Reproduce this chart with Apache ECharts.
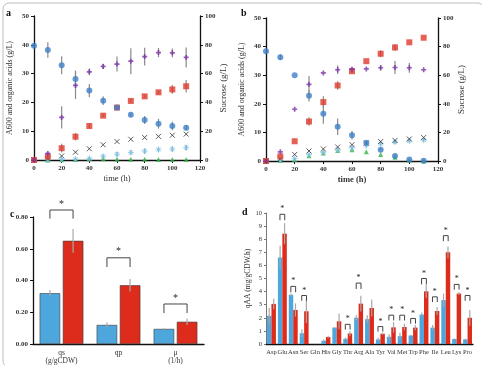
<!DOCTYPE html>
<html><head><meta charset="utf-8">
<script src="https://cdn.jsdelivr.net/npm/echarts@6/dist/echarts.min.js"></script>
<style>html,body{margin:0;padding:0;background:#fff}#c{width:482px;height:365px}</style>
</head><body><div id="c"></div>
<script>
// ---------- Data ----------
const timeH = [0,10,20,30,40,50,60,70,80,90,100,110];
// Panel a
const aSucrose = [79.4,76.4,65.8,56.2,48.2,41.2,36.4,31.4,27.8,25.2,23.6,22.4];
const aSucroseErr = [0,5.4,6.2,6,4.6,3,1,1.6,2.8,3.4,3,1.8];
const aA600 = [0,2.3,14.8,25.9,30.6,32.5,33.3,34.3,35.9,37.3,37.2,35.6];
const aA600Err = [0,0.3,3.9,4.7,1.2,0.9,2.6,4.5,3.1,1.6,1.5,3.5];
const aRed = [0,1.2,4.1,8.1,11.8,15.4,18.2,20.5,22.1,23.5,24.5,25.6];
const aRedErr = [0,0.3,1.5,1.3,0.7,0.5,0.5,0.5,0.5,0.6,1.5,2.2];
const aBlack = [0,0.5,1.4,2.7,3.9,5.3,6.4,7.2,7.8,8.2,8.6,9.0];
const aLight = [0,0,0.2,0.3,0.5,1.3,2.0,2.6,3.1,3.6,3.8,4.3];
const aLightErr = [0,0,0,0,0.3,0.6,0.8,0.8,0.9,0.9,0.9,0.9];
const aGreen = [0,0,0.1,0.2,0.4,0.4,0.3,0.3,0.3,0.2,0.2,0.2];
// Panel b
const bSucrose = [76.8,72.6,60.0,45.6,33.0,24.0,18.0,12.8,7.8,3.5,1.0,0.2];
const bSucroseErr = [0,2,0,4,7,5.8,3,1,1,1,0.5,0];
const bA600 = [0,3.2,18.1,26.8,30.8,31.9,32.1,32.2,32.6,32.7,32.6,31.9];
const bA600Err = [0,0,0,2.9,0,1.5,0.5,0,1,2.3,1.7,0];
const bRed = [0,1.6,6.9,13.8,20.6,26.4,31.4,34.9,37.5,39.7,41.5,43.1];
const bRedErr = [0,0,0,1.5,2,1.5,0.7,0,1.2,1.2,0,0];
const bBlack = [0,0.8,2.3,3.5,4.2,4.9,5.7,6.3,6.8,7.2,7.7,8.2];
const bLight = [0,0.3,0.8,2.2,3.0,3.8,4.6,5.4,6.0,6.6,7.0,7.3];
const bLightErr = [0,0,0,0.3,0.4,0.4,0.5,0.6,0.6,0.6,0.5,0.6];
const bGreen = [0,0.2,0.5,1.8,2.8,3.7,3.9,3.2,2.3,1.3,0.3,0];
// Panel c
const cCats = ['qs\n(g/gCDW)','qp','μ\n(1/h)'];
const cBlue = [0.32,0.12,0.095];
const cBlueErr = [0.02,0.015,0.005];
const cRed = [0.65,0.37,0.14];
const cRedErr = [0.075,0.04,0.02];
const cBrackets = [[0,0.844,0.79],[1,0.543,0.485],[2,0.252,0.195]];
// Panel d
const dCats = ['Asp','Glu','Asn','Ser','Gln','His','Gly','Thr','Arg','Ala','Tyr','Val','Met','Trp','Phe','Ile','Leu','Lys','Pro'];
const dBlue = [2.15,6.6,3.75,0.82,0,0.25,1.25,0.4,2.0,1.9,0.35,0.55,0.6,0.65,2.25,1.25,3.35,0.38,0.35];
const dBlueErr = [0.6,0.9,0.1,0.3,0,0.1,0.05,0.1,0.2,0.3,0.15,0.2,0.25,0.05,0.15,0.2,0.5,0.05,0.05];
const dRed = [3.06,8.42,2.6,2.5,0,0.53,1.73,0.8,3.08,2.75,0.78,1.27,1.3,1.25,4.02,2.52,7.0,3.85,2.0];
const dRedErr = [0.4,0.8,0.5,0.9,0,0.1,0.6,0.2,0.6,0.65,0.1,0.4,0.25,0.2,0.5,0.3,0.45,0.1,0.6];
const dBrackets = [[1,9.9,9.45],[2,4.4,3.95],[3,3.7,3.3],[7,1.5,1.1],[8,4.65,4.2],[10,1.33,0.95],[11,2.2,1.8],[12,2.2,1.8],[13,1.95,1.55],[14,5.0,4.55],[15,3.6,3.2],[16,8.27,7.85],[17,4.55,4.15],[18,3.7,3.3]];

// ---------- helpers ----------
const SERIF = '"Liberation Serif","DejaVu Serif",serif';
const pts = (xs, ys) => xs.map((x,i)=>[x, ys[i]]);
const errs = (xs, ys, es) => xs.map((x,i)=>[x, ys[i]-es[i], ys[i]+es[i]]).filter((d,i)=>es[i]>0);

function errRender(params, api){
  const p1 = api.coord([api.value(0), api.value(1)]);
  const p2 = api.coord([api.value(0), api.value(2)]);
  return {type:'line', shape:{x1:p1[0],y1:p1[1],x2:p2[0],y2:p2[1]}, style:{stroke:'#8a8a8a', lineWidth:1.2}};
}
function errSeries(xi, yi, data){
  return {type:'custom', xAxisIndex:xi, yAxisIndex:yi, renderItem:errRender, data:data, z:1, silent:true};
}
function barErrRender(frac){
  return function(params, api){
    const side = api.value(3);
    const band = api.size([1,0])[0];
    const p1 = api.coord([api.value(0), api.value(1)]);
    const p2 = api.coord([api.value(0), api.value(2)]);
    const x = p1[0] + side*frac*band;
    return {type:'line', shape:{x1:x,y1:p1[1],x2:x,y2:p2[1]}, style:{stroke:'#a8a8a8', lineWidth:1.2}};
  };
}
function bracketRender(frac, fs){
  return function(params, api){
    const band = api.size([1,0])[0];
    const top = api.coord([api.value(0), api.value(1)]);
    const arm = api.coord([api.value(0), api.value(2)]);
    const xl = top[0] - frac*band, xr = top[0] + frac*band;
    return {type:'group', children:[
      {type:'polyline', shape:{points:[[xl,arm[1]],[xl,top[1]],[xr,top[1]],[xr,arm[1]]]}, style:{stroke:'#444', lineWidth:1, fill:null}},
      {type:'text', style:{text:'*', x:top[0], y:top[1]-1, align:'center', verticalAlign:'bottom', fontSize:fs, fontFamily:SERIF, fill:'#222'}}
    ]};
  };
}
const barErrData = (bl, be, rd, re) => {
  const out = [];
  bl.forEach((v,i)=>{ if(be[i]>0) out.push([i, v-be[i], v+be[i], -1]); });
  rd.forEach((v,i)=>{ if(re[i]>0) out.push([i, v-re[i], v+re[i], 1]); });
  return out;
};

const SYM_X = 'path://M0,0L10,10M10,0L0,10';
const SYM_AST = 'path://M5,0L5,10M0,5L10,5M1.5,1.5L8.5,8.5M8.5,1.5L1.5,8.5';
const SYM_PLUS = 'path://M3.3,0H6.7V3.3H10V6.7H6.7V10H3.3V6.7H0V3.3H3.3Z';

function scatterSet(xi, yl, yr, suc, sucE, a6, a6E, red, redE, blk, lt, ltE, grn){
  return [
    errSeries(xi, yr, errs(timeH, suc, sucE)),
    errSeries(xi, yl, errs(timeH, a6, a6E)),
    errSeries(xi, yl, errs(timeH, red, redE)),
    errSeries(xi, yl, errs(timeH, lt, ltE)),
    {type:'scatter', xAxisIndex:xi, yAxisIndex:yl, data:pts(timeH, grn), symbol:'triangle', symbolSize:5, itemStyle:{color:'#34b44a'}, z:3},
    {type:'scatter', xAxisIndex:xi, yAxisIndex:yl, data:pts(timeH, lt), symbol:SYM_AST, symbolSize:6, itemStyle:{color:'none', borderColor:'#7fc4ea', borderWidth:1}, z:3},
    {type:'scatter', xAxisIndex:xi, yAxisIndex:yl, data:pts(timeH, blk), symbol:SYM_X, symbolSize:5, itemStyle:{color:'none', borderColor:'#333', borderWidth:1}, z:3},
    {type:'scatter', xAxisIndex:xi, yAxisIndex:yl, data:pts(timeH, red), symbol:'rect', symbolSize:6, itemStyle:{color:'#e0392a'}, z:4},
    {type:'scatter', xAxisIndex:xi, yAxisIndex:yr, data:pts(timeH, suc), symbol:'circle', symbolSize:6, itemStyle:{color:'#3f7fc8'}, z:4},
    {type:'scatter', xAxisIndex:xi, yAxisIndex:yl, data:pts(timeH, a6), symbol:SYM_PLUS, symbolSize:5, itemStyle:{color:'#7a2ea8'}, z:5}
  ];
}

const tickLbl = {fontFamily:SERIF, fontSize:7, fontWeight:'bold', color:'#333'};
const axLine = {lineStyle:{color:'#111', width:1.3}};
function timeAxis(gi, boldName){
  return {type:'value', gridIndex:gi, min:0, max:120, interval:20, axisLine:axLine,
    axisTick:{length:3, lineStyle:{color:'#111'}}, splitLine:{show:false},
    axisLabel:Object.assign({margin:5}, tickLbl),
    name:'time (h)', nameLocation:'middle', nameGap:14,
    nameTextStyle:{fontFamily:SERIF, fontSize:8.5, fontWeight:boldName?'bold':'normal', color:'#333'}};
}
function leftAxis(gi, gap){
  return {type:'value', gridIndex:gi, min:0, max:50, interval:10, axisLine:Object.assign({show:true},axLine),
    axisTick:{show:true, length:3, lineStyle:{color:'#111'}}, splitLine:{show:false},
    axisLabel:Object.assign({margin:5}, tickLbl),
    name:'A600 and organic acids (g/L)', nameLocation:'middle', nameGap:gap, nameRotate:90,
    nameTextStyle:{fontFamily:SERIF, fontSize:8, color:'#333'}};
}
function rightAxis(gi, gap){
  return {type:'value', gridIndex:gi, position:'right', min:0, max:100, interval:20, axisLine:Object.assign({show:true},axLine),
    axisTick:{show:true, length:3, lineStyle:{color:'#111'}}, splitLine:{show:false},
    axisLabel:Object.assign({margin:5}, tickLbl),
    name:'Sucrose (g/L)', nameLocation:'middle', nameGap:gap, nameRotate:90,
    nameTextStyle:{fontFamily:SERIF, fontSize:9, color:'#333'}};
}

const chart = echarts.init(document.getElementById('c'), null, {renderer:'canvas'});
const option = {
  animation:false,
  backgroundColor:'#fff',
  grid:[
    {left:34, top:16, width:166, height:144},
    {left:266, top:18, width:172, height:143},
    {left:33, top:217, width:171, height:127},
    {left:266, top:213, width:207, height:131}
  ],
  xAxis:[
    timeAxis(0,false),
    timeAxis(1,true),
    {type:'category', gridIndex:2, data:cCats, axisLine:axLine, axisTick:{show:false},
      axisLabel:{fontFamily:SERIF, fontSize:7.5, color:'#333', margin:5, lineHeight:8}},
    {type:'category', gridIndex:3, data:dCats, axisLine:axLine, axisTick:{show:false},
      axisLabel:{fontFamily:SERIF, fontSize:6.5, color:'#333', margin:5, interval:0}}
  ],
  yAxis:[
    leftAxis(0,20), rightAxis(0,19),
    leftAxis(1,20), rightAxis(1,18),
    {type:'value', gridIndex:2, min:0, max:0.8, interval:0.2, axisLine:Object.assign({show:true},axLine),
      axisTick:{show:true, length:3, lineStyle:{color:'#111'}}, splitLine:{show:false},
      axisLabel:Object.assign({margin:5, formatter:v=>v.toFixed(2)}, tickLbl)},
    {type:'value', gridIndex:3, min:0, max:10, interval:1, axisLine:{show:true, lineStyle:{color:'#777', width:1}},
      axisTick:{show:true, length:2, lineStyle:{color:'#777'}}, splitLine:{show:false},
      axisLabel:{fontFamily:SERIF, fontSize:6.5, color:'#333', margin:4},
      name:'qAA (mg/gCDW.h)', nameLocation:'middle', nameGap:13, nameRotate:90,
      nameTextStyle:{fontFamily:SERIF, fontSize:7.5, color:'#333'}}
  ],
  series:[
    ...scatterSet(0,0,1,aSucrose,aSucroseErr,aA600,aA600Err,aRed,aRedErr,aBlack,aLight,aLightErr,aGreen),
    ...scatterSet(1,2,3,bSucrose,bSucroseErr,bA600,bA600Err,bRed,bRedErr,bBlack,bLight,bLightErr,bGreen),
    {type:'bar', xAxisIndex:2, yAxisIndex:4, data:cBlue, barWidth:'36%', barGap:'13%', itemStyle:{color:'#4ea7dc', borderColor:'#3a3a3a', borderWidth:0.6}},
    {type:'bar', xAxisIndex:2, yAxisIndex:4, data:cRed, barWidth:'36%', barGap:'13%', itemStyle:{color:'#dd2b1c', borderColor:'#3a3a3a', borderWidth:0.6}},
    {type:'custom', xAxisIndex:2, yAxisIndex:4, renderItem:barErrRender(0.203), data:barErrData(cBlue,cBlueErr,cRed,cRedErr), z:5},
    {type:'custom', xAxisIndex:2, yAxisIndex:4, renderItem:bracketRender(0.203, 10), data:cBrackets, z:5},
    {type:'bar', xAxisIndex:3, yAxisIndex:5, data:dBlue, barWidth:'41%', barGap:'0%', itemStyle:{color:'#4ea7dc'}},
    {type:'bar', xAxisIndex:3, yAxisIndex:5, data:dRed, barWidth:'41%', barGap:'0%', itemStyle:{color:'#dd2b1c'}},
    {type:'custom', xAxisIndex:3, yAxisIndex:5, renderItem:barErrRender(0.205), data:barErrData(dBlue,dBlueErr,dRed,dRedErr), z:5},
    {type:'custom', xAxisIndex:3, yAxisIndex:5, renderItem:bracketRender(0.22, 8), data:dBrackets, z:5}
  ],
  graphic:[
    {type:'rect', left:0.5, top:0.5, shape:{width:481, height:364, r:6}, style:{fill:'none', stroke:'#bdbdbd', lineWidth:1}, silent:true},
    {type:'text', left:6, top:8, style:{text:'a', fontFamily:SERIF, fontSize:10, fontWeight:'bold', fill:'#111'}},
    {type:'text', left:241, top:8, style:{text:'b', fontFamily:SERIF, fontSize:10, fontWeight:'bold', fill:'#111'}},
    {type:'text', left:10, top:209, style:{text:'c', fontFamily:SERIF, fontSize:10, fontWeight:'bold', fill:'#111'}},
    {type:'text', left:242, top:207, style:{text:'d', fontFamily:SERIF, fontSize:10, fontWeight:'bold', fill:'#111'}}
  ]
};
chart.setOption(option);
</script></body></html>
